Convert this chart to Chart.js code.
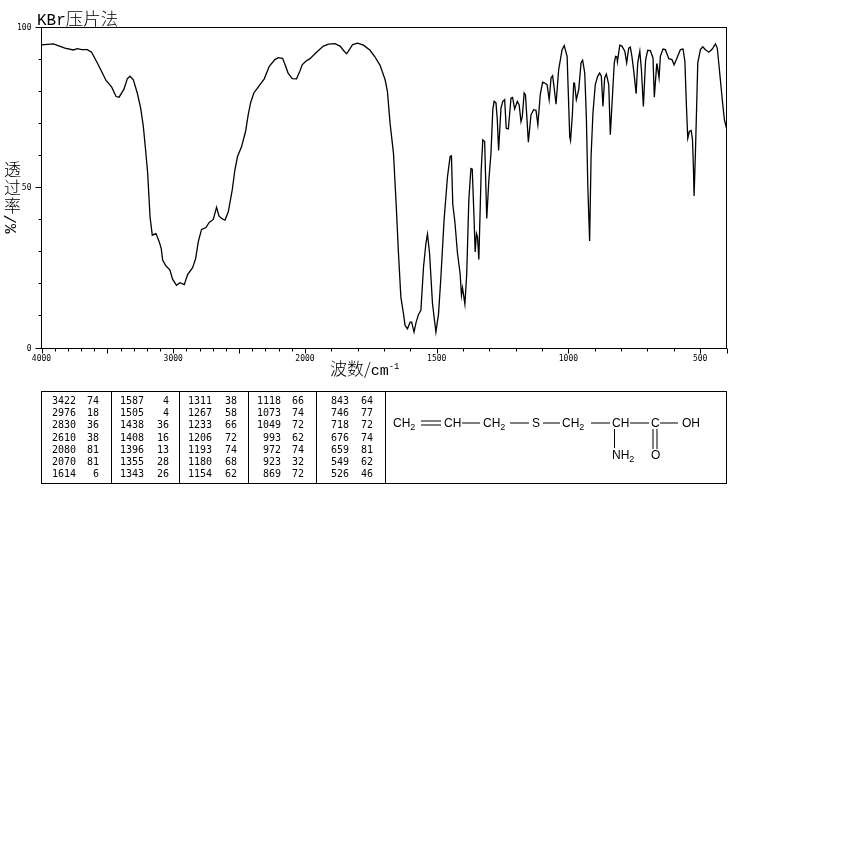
<!DOCTYPE html>
<html>
<head>
<meta charset="utf-8">
<title>KBr压片法</title>
<script src="https://cdn.jsdelivr.net/npm/chart.js@4/dist/chart.umd.min.js"></script>
<style>
  html, body { margin: 0; padding: 0; background: #fff; }
  #wrap { position: relative; width: 850px; height: 850px; overflow: hidden; }
  #irChart { position: absolute; left: 0; top: 0; }
  .label { position: absolute; color: #000; white-space: nowrap; line-height: 1; font-family: "Noto Sans CJK SC", sans-serif; font-weight: 300; }
  #peakBox { position: absolute; left: 41px; top: 391px; width: 684px; height: 91px; border: 1px solid #000; box-sizing: content-box; }
  .divider { position: absolute; top: 0; width: 1px; height: 91px; background: #000; }
  .num { position: absolute; font: 10px "DejaVu Sans Mono", monospace; line-height: 12px; color: #000; text-align: right; }
  #structure { position: absolute; left: 0; top: 0; }
  #structure text { font: 12px "Liberation Sans", Arial, sans-serif; fill: #000; }
  #structure line { stroke: #000; stroke-width: 1; }
</style>
</head>
<body>
<div id="wrap">
  <canvas id="irChart" width="850" height="850"></canvas>
  <div class="label" style="left:37px;top:9px;font-size:17.5px"><span style="font-family:'Liberation Mono',monospace;font-size:16px">KBr</span>压片法</div>
  <div class="label" style="left:330px;top:359px;font-size:17px">波数/<span style="font-family:'Liberation Mono',monospace;font-size:15px">cm</span><sup style="font-size:9px;vertical-align:6px;font-family:'Liberation Mono',monospace">-1</sup></div>
  <div class="label" style="left:4px;top:160px;font-size:17px;line-height:18px;white-space:normal;width:18px">透过率</div>
  <div class="label" style="left:2px;top:216px;font-size:16px;transform:rotate(-90deg);transform-origin:center;font-family:'Liberation Mono',monospace">%/</div>
  <div id="peakBox"></div>
  <svg id="structure" width="850" height="850" xmlns="http://www.w3.org/2000/svg">
    <text x="393" y="427">CH<tspan font-size="9" dy="3">2</tspan></text>
    <line x1="421" y1="421" x2="441" y2="421"></line>
    <line x1="421" y1="425" x2="441" y2="425"></line>
    <text x="444" y="427">CH</text>
    <line x1="462" y1="423" x2="480" y2="423"></line>
    <text x="483" y="427">CH<tspan font-size="9" dy="3">2</tspan></text>
    <line x1="510" y1="423" x2="529" y2="423"></line>
    <text x="532" y="427">S</text>
    <line x1="543" y1="423" x2="560" y2="423"></line>
    <text x="562" y="427">CH<tspan font-size="9" dy="3">2</tspan></text>
    <line x1="591" y1="423" x2="610" y2="423"></line>
    <text x="612" y="427">CH</text>
    <line x1="630" y1="423" x2="649" y2="423"></line>
    <text x="651" y="427">C</text>
    <line x1="660" y1="423" x2="678" y2="423"></line>
    <text x="682" y="427">OH</text>
    <line x1="614.5" y1="429" x2="614.5" y2="448"></line>
    <text x="612" y="459">NH<tspan font-size="9" dy="3">2</tspan></text>
    <line x1="653" y1="429" x2="653" y2="449"></line>
    <line x1="657" y1="429" x2="657" y2="449"></line>
    <text x="651" y="459">O</text>
  </svg>
</div>

<script>
// spectrum: wavenumber (cm-1) and transmittance (%)
const waveNumbers = [
  4000, 3910, 3822, 3758, 3728, 3695, 3652, 3620, 3569, 3510, 3467, 3434, 3411, 3374, 3349, 3328, 3303, 3273, 3247, 3227,
  3210, 3194, 3176, 3159, 3131, 3106, 3091, 3080, 3058, 3025, 3005, 2975, 2949, 2916, 2891, 2853, 2830, 2810, 2785, 2752,
  2727, 2696, 2671, 2653, 2633, 2607, 2582, 2552, 2532, 2512, 2481, 2451, 2431, 2413, 2388, 2347, 2309, 2271, 2228, 2203,
  2170, 2153, 2128, 2097, 2064, 2039, 2021, 1997, 1981, 1956, 1930, 1911, 1886, 1867, 1851, 1842, 1833, 1819, 1800, 1778,
  1753, 1734, 1715, 1696, 1687, 1677, 1664, 1654, 1645, 1636, 1626, 1620, 1611, 1601, 1595, 1586, 1578, 1569, 1560, 1550,
  1541, 1535, 1527, 1516, 1503, 1493, 1484, 1472, 1459, 1449, 1444, 1439, 1436, 1431, 1421, 1411, 1406, 1402, 1393, 1386,
  1378, 1370, 1365, 1358, 1354, 1349, 1345, 1340, 1331, 1325, 1318, 1310, 1302, 1294, 1287, 1282, 1275, 1270, 1265, 1256,
  1249, 1242, 1236, 1228, 1218, 1212, 1204, 1194, 1187, 1180, 1175, 1168, 1163, 1152, 1142, 1132, 1123, 1116, 1107, 1098,
  1090, 1081, 1073, 1066, 1060, 1054, 1047, 1037, 1024, 1016, 1005, 995, 992, 985, 980, 977, 970, 961, 952, 946,
  938, 932, 926, 919.5, 914, 907, 898, 889, 881.5, 875, 869, 862.5, 856, 847, 841, 833, 826, 821, 816, 814,
  805, 797, 786, 779, 771, 765, 759, 752, 743, 737, 729, 723, 715.5, 707, 699, 689, 679, 674, 665, 664,
  656, 651, 641, 632, 619, 607, 599, 588, 575, 565, 558, 552, 547, 541, 534, 529, 525, 523, 518, 509,
  499, 490, 480, 467, 454, 442, 435, 427, 416, 408, 400
];
const transmittance = [
  94.6, 94.9, 93.6, 93, 93.4, 93.1, 93.1, 92.3, 88.4, 83.5, 81.4, 78.5, 78.3, 80.8, 84, 84.8, 83.7, 79.6, 74.9, 69.2,
  61.9, 54.6, 41, 35.3, 35.8, 33.2, 31.1, 27.5, 25.9, 24.4, 21.6, 19.7, 20.5, 19.9, 23, 25.2, 28, 33.2, 37.1, 37.7,
  39.3, 40.2, 44, 41.3, 40.5, 40, 42.6, 49.4, 55.6, 59.8, 62.9, 67.6, 72.8, 76.5, 79.6, 81.9, 84, 87.9, 90, 90.6,
  90.4, 88.6, 85.8, 84.1, 84, 86.4, 88.4, 89.5, 90.3, 92.3, 94.2, 94.8, 95, 94.2, 92.6, 91.8, 92.9, 94.7, 95.1, 94.5,
  92.9, 90.8, 88.2, 83.8, 80.1, 70.2, 60.8, 45.2, 29.6, 16, 10.8, 7.2, 6.1, 8.2, 8.2, 5.1, 8.2, 10.6, 11.9, 25.4,
  32.7, 35.6, 29.6, 14, 5.1, 10.8, 22.3, 40, 53.5, 59.8, 60, 45, 42.9, 39.5, 29.6, 23.3, 16.6, 18.9, 13.8, 23.3,
  46.3, 56.1, 55.9, 40, 30.1, 35.8, 34.8, 27.7, 55.6, 65, 64.5, 40.5, 52.5, 60.8, 74.4, 77, 76.5, 71.3, 61.7, 74.9,
  77, 77.5, 68.6, 68.4, 78, 78.2, 74.6, 77, 75.9, 70.7, 72.3, 79.6, 79, 64.3, 72.8, 74.4, 74.2, 69.7, 79, 83,
  82.7, 82.2, 77.5, 84.3, 85, 81.1, 76.1, 86.9, 93.1, 94.4, 91, 66, 64.8, 72.8, 82.7, 82.7, 77.5, 80.6, 89, 89.8,
  85.8, 72.3, 49.4, 33.5, 59.8, 73.3, 82.2, 84.8, 85.8, 84.8, 75.4, 84.3, 85.5, 82.2, 66.6, 78.5, 89, 91, 90.8, 89.3,
  94.5, 94.2, 92.6, 89, 93.6, 93.9, 91, 86.4, 79.4, 89, 92.6, 86.9, 75.4, 90, 92.9, 92.8, 90.5, 78.3, 88.4, 88.8,
  84.3, 91, 93.3, 93.1, 90.3, 90, 88.4, 90.5, 93.1, 93.3, 89.5, 75.4, 65.5, 67.6, 67.9, 65, 54.6, 47.5, 60.8, 89,
  93.1, 94, 93.1, 92.3, 93.3, 94.9, 93.6, 86.9, 77.5, 71.3, 68.6
];

const xTicks = [4000, 3900, 3800, 3700, 3600, 3500, 3400, 3300, 3200, 3100, 3000, 2900, 2800, 2700, 2600, 2500, 2400, 2300, 2200, 2100,
  2000, 1900, 1800, 1700, 1600, 1500, 1400, 1300, 1200, 1100, 1000, 900, 800, 700, 600, 500, 400];
const xLabels = [4000, 3000, 2000, 1500, 1000, 500];
const xLong = [4000, 3500, 3000, 2500, 2000, 1500, 1000, 500, 400];
const yLabels = [0, 50, 100];

// peak table, 5 columns of 7 rows
const peakWaves = [
  3422, 2976, 2830, 2610, 2080, 2070, 1614,
  1587, 1505, 1438, 1408, 1396, 1355, 1343,
  1311, 1267, 1233, 1206, 1193, 1180, 1154,
  1118, 1073, 1049, 993, 972, 923, 869,
  843, 746, 718, 676, 659, 549, 526
];
const peakValues = [
  74, 18, 36, 38, 81, 81, 6,
  4, 4, 36, 16, 13, 28, 26,
  38, 58, 66, 72, 74, 68, 62,
  66, 74, 72, 62, 74, 32, 72,
  64, 77, 72, 74, 81, 62, 46
];

// x axis of the spectrometer chart: 4000-2000 is squeezed to half the density of 2000-400
class FoldedScale extends Chart.LinearScale {
  static id = "folded";
  static defaults = {};
  getPixelForValue(value) {
    const u = value > 2000 ? 2000 + (value - 2000) / 2 : value;
    return this.left + ((3000 - u) / 2600) * this.width;
  }
  getValueForPixel(pixel) {
    const u = 3000 - ((pixel - this.left) / this.width) * 2600;
    return u > 2000 ? 2000 + (u - 2000) * 2 : u;
  }
  buildTicks() {
    return xTicks.map((v) => ({ value: v }));
  }
}
Chart.register(FoldedScale);

// frame and tick marks
const framePlugin = {
  id: "frame",
  afterDraw(chart) {
    const { ctx, chartArea: a, scales } = chart;
    ctx.save();
    ctx.strokeStyle = "#000";
    ctx.lineWidth = 1;
    ctx.strokeRect(a.left, a.top, a.right - a.left, a.bottom - a.top);
    ctx.beginPath();
    xTicks.forEach((v) => {
      const x = Math.round(scales.x.getPixelForValue(v)) + 0.5;
      ctx.moveTo(x, a.bottom);
      ctx.lineTo(x, a.bottom + (xLong.includes(v) ? 5 : 3));
    });
    scales.y.ticks.forEach((t) => {
      const y = Math.round(scales.y.getPixelForValue(t.value)) - 0.5;
      ctx.moveTo(a.left, y);
      ctx.lineTo(a.left - (yLabels.includes(t.value) ? 6 : 3), y);
    });
    ctx.stroke();
    ctx.restore();
  },
};

new Chart(document.getElementById("irChart"), {
  type: "line",
  data: {
    datasets: [
      {
        data: waveNumbers.map((w, i) => ({ x: w, y: transmittance[i] })),
        borderColor: "#000",
        borderWidth: 1.3,
        pointRadius: 0,
        tension: 0,
        fill: false,
      },
    ],
  },
  options: {
    responsive: false,
    devicePixelRatio: 1,
    animation: false,
    layout: { padding: { left: 0, top: 27.5, right: 123.5, bottom: 481.5 } },
    plugins: { legend: { display: false }, title: { display: false }, tooltip: { enabled: false } },
    scales: {
      x: {
        type: "folded",
        min: 400,
        max: 4000,
        grid: { display: false, drawTicks: false },
        border: { display: false },
        afterFit: (s) => { s.height = 20; },
        ticks: {
          autoSkip: false,
          maxRotation: 0,
          padding: 6,
          color: "#000",
          font: { family: "DejaVu Sans Mono", size: 8 },
          callback: (v) => (xLabels.includes(v) ? String(v) : ""),
        },
      },
      y: {
        min: 0,
        max: 100,
        grid: { display: false, drawTicks: false },
        border: { display: false },
        afterFit: (s) => { s.width = 41.5; },
        ticks: {
          stepSize: 10,
          padding: 10,
          color: "#000",
          font: { family: "DejaVu Sans Mono", size: 8 },
          callback: (v) => (yLabels.includes(v) ? String(v) : ""),
        },
      },
    },
  },
  plugins: [framePlugin],
});

// peak table
const box = document.getElementById("peakBox");
const dividerX = [69, 137, 206, 274, 343];
dividerX.forEach((x) => {
  const d = document.createElement("div");
  d.className = "divider";
  d.style.left = x + "px";
  box.appendChild(d);
});
const waveRight = [76, 144, 212, 281, 349];
const valueRight = [99, 169, 237, 304, 373];
peakWaves.forEach((w, i) => {
  const col = Math.floor(i / 7);
  const row = i % 7;
  const top = 395 + row * 12.2;
  [[w, waveRight[col]], [peakValues[i], valueRight[col]]].forEach(([txt, right]) => {
    const n = document.createElement("div");
    n.className = "num";
    n.textContent = txt;
    n.style.top = top - 392 + "px";
    n.style.right = 726 - right + "px";
    box.appendChild(n);
  });
});
</script>
</body>
</html>
